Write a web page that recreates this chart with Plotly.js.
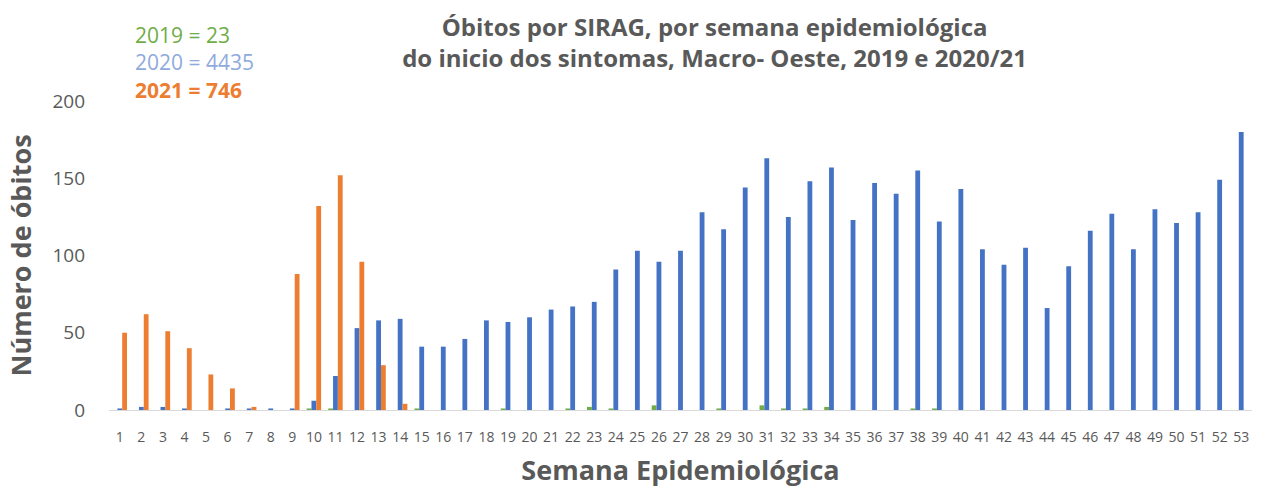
<!DOCTYPE html>
<html>
<head>
<meta charset="utf-8">
<script src="https://cdn.plot.ly/plotly-3.0.1.min.js"></script>
<style>html,body{margin:0;padding:0;background:#fff;}#chart{width:1267px;height:488px;}</style>
</head>
<body>
<div id="chart"></div>
<script>
const weeks = Array.from({length: 53}, (_, i) => i + 1);
const weekLabels = weeks.map(String);

const deaths2019 = [0,0,0,0,0,0,0,0,0,1,1,0,0,0,1,0,0,0,1,0,0,1,2,1,0,3,0,0,1,0,3,1,1,2,0,0,0,1,1,0,0,0,0,0,0,0,0,0,0,0,0,0,0];
const deaths2020 = [1,2,2,1,0,1,1,1,1,6,22,53,58,59,41,41,46,58,57,60,65,67,70,91,103,96,103,128,117,144,163,125,148,157,123,147,140,155,122,143,104,94,105,66,93,116,127,104,130,121,128,149,180];
const deaths2021 = [50,62,51,40,23,14,2,0,88,132,152,96,29,4,0,0,0,0,0,0,0,0,0,0,0,0,0,0,0,0,0,0,0,0,0,0,0,0,0,0,0,0,0,0,0,0,0,0,0,0,0,0,0];

const legendLines = ["2019 = 23", "2020 = 4435", "2021 = 746"];
const legendColors = ["#70AD47", "#8FAADC", "#ED7D31"];
const legendY = [1.214, 1.126, 1.036];

const traces = [
  {type: 'bar', name: '2019', x: weeks, y: deaths2019, marker: {color: '#70AD47'}},
  {type: 'bar', name: '2020', x: weeks, y: deaths2020, marker: {color: '#4472C4'}},
  {type: 'bar', name: '2021', x: weeks, y: deaths2021, marker: {color: '#ED7D31'}}
];

const annotations = legendLines.map((t, i) => ({
  text: i === 2 ? '<b>' + t + '</b>' : t,
  xref: 'paper', yref: 'paper', x: 0.021, y: legendY[i],
  xanchor: 'left', yanchor: 'middle', showarrow: false,
  font: {family: 'Open Sans, sans-serif', size: 21, color: legendColors[i]}
}));

const layout = {
  width: 1267, height: 488,
  margin: {l: 109, r: 15, t: 101, b: 78},
  paper_bgcolor: '#fff', plot_bgcolor: '#fff',
  barmode: 'group', bargap: 0.33, bargroupgap: 0,
  showlegend: false,
  title: {
    text: '<b>Óbitos por SIRAG, por semana epidemiológica<br>do inicio dos sintomas, Macro- Oeste, 2019 e 2020/21</b>',
    x: 0.564, xanchor: 'center', y: 0.927, yanchor: 'middle',
    font: {family: 'Open Sans, sans-serif', size: 24, color: '#595959'}
  },
  xaxis: {
    range: [0.5, 53.5], tickmode: 'array', tickvals: weeks, ticktext: weekLabels,
    showgrid: false, zeroline: false, showline: true, linecolor: '#D9D9D9', linewidth: 1,
    ticks: '', ticklabelstandoff: 14,
    tickfont: {family: 'Open Sans, sans-serif', size: 14, color: '#595959'},
    title: {text: '<b>Semana Epidemiológica</b>', standoff: 21,
      font: {family: 'Open Sans, sans-serif', size: 27, color: '#595959'}}
  },
  yaxis: {
    range: [0, 200], tickvals: [0, 50, 100, 150, 200],
    showgrid: false, zeroline: false, showline: false, ticks: '', ticklabelstandoff: 23,
    tickfont: {family: 'Open Sans, sans-serif', size: 19, color: '#595959'},
    title: {text: '<b>Número de óbitos</b>', standoff: 12,
      font: {family: 'Open Sans, sans-serif', size: 27, color: '#595959'}}
  },
  annotations: annotations
};

Plotly.newPlot('chart', traces, layout, {displayModeBar: false, staticPlot: true});
</script>
</body>
</html>
